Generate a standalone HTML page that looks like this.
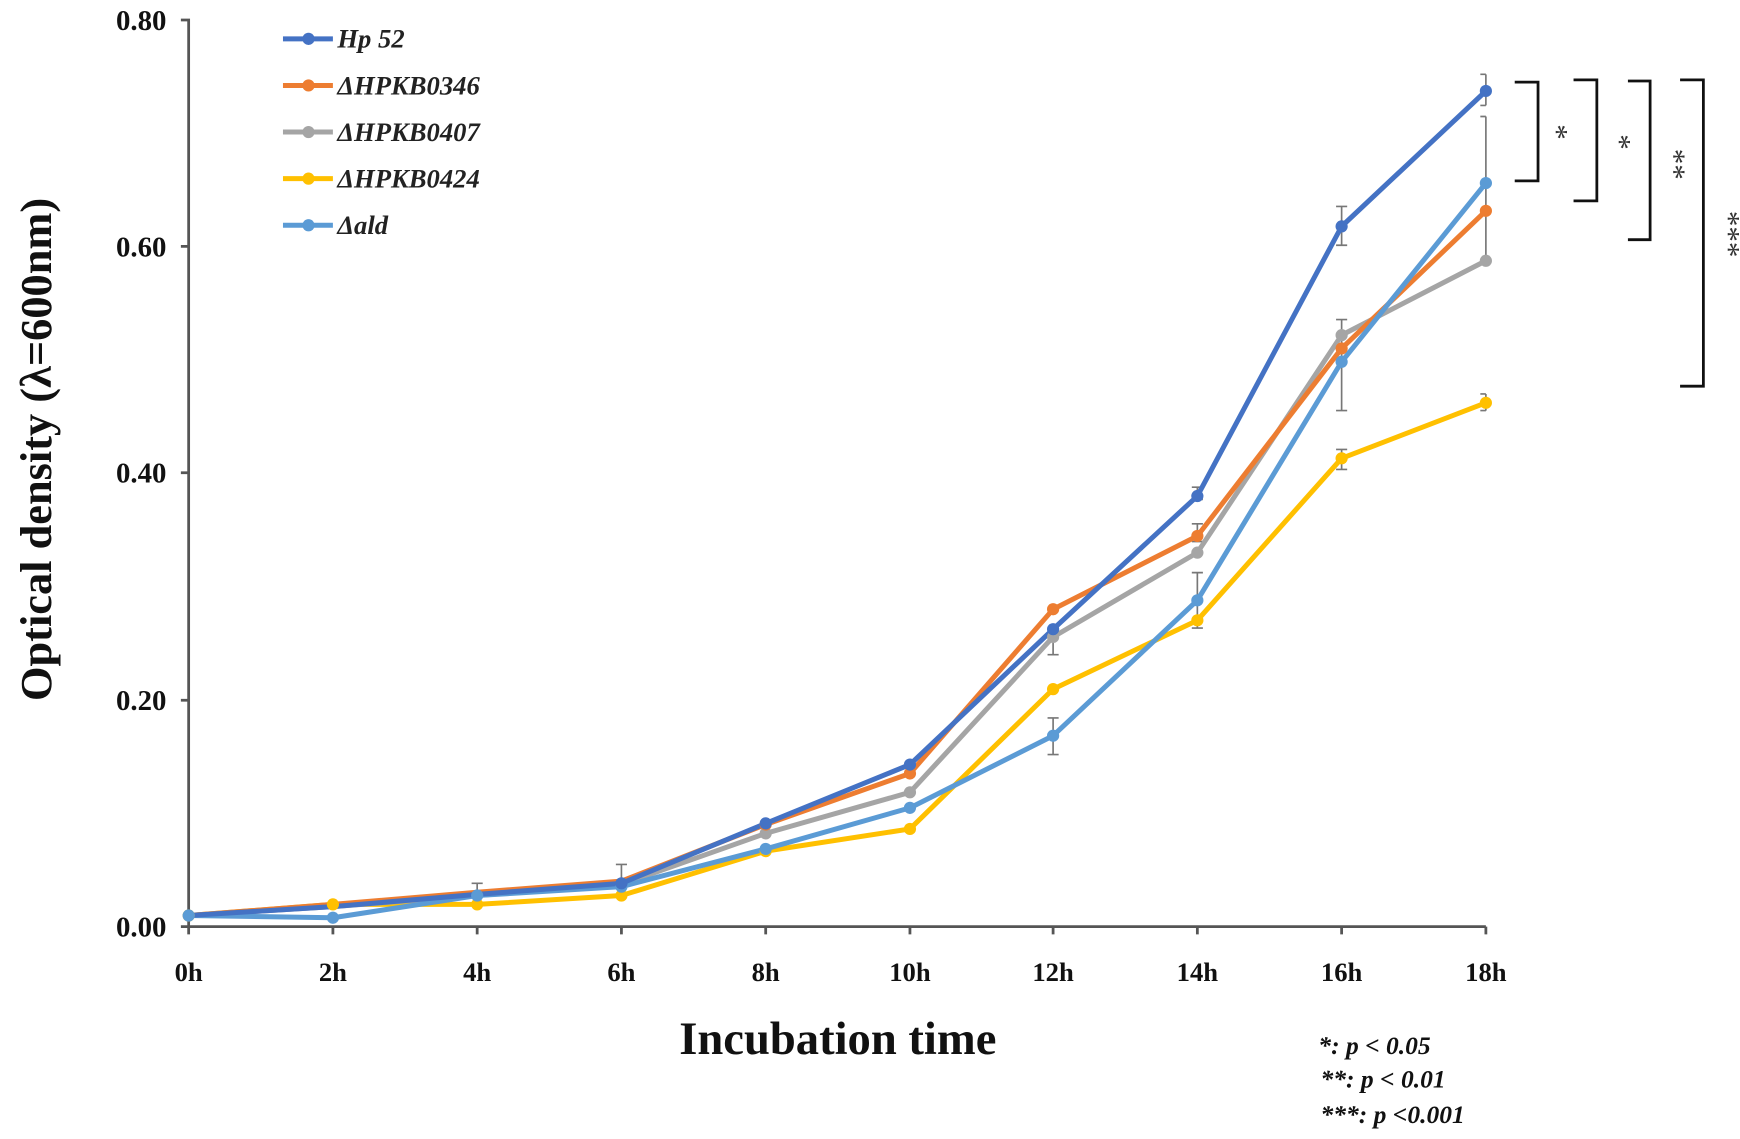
<!DOCTYPE html>
<html><head><meta charset="utf-8"><style>html,body{margin:0;padding:0;background:#fff}svg{display:block}text{font-family:"Liberation Serif",serif;font-weight:bold}</style></head>
<body>
<svg width="1740" height="1139" viewBox="0 0 1568 1026.4" preserveAspectRatio="none" xmlns="http://www.w3.org/2000/svg">
<g stroke="#555" stroke-width="2.5" fill="none">
<path d="M163 18H170V835H1339"/>
<path d="M163 222H170M163 426H170M163 631H170M163 835H170"/>
<path d="M170 835v7M300 835v7M430 835v7M560 835v7M690 835v7M820 835v7M949 835v7M1079 835v7M1209 835v7M1339 835v7"/>
</g>
<g font-size="26" text-anchor="end" fill="#111">
<text x="150" y="27">0.80</text><text x="150" y="231">0.60</text><text x="150" y="435">0.40</text><text x="150" y="640">0.20</text><text x="150" y="844">0.00</text>
</g>
<g font-size="24" text-anchor="middle" fill="#111">
<text x="170" y="884">0h</text><text x="300" y="884">2h</text><text x="430" y="884">4h</text><text x="560" y="884">6h</text><text x="690" y="884">8h</text><text x="820" y="884">10h</text><text x="949" y="884">12h</text><text x="1079" y="884">14h</text><text x="1209" y="884">16h</text><text x="1339" y="884">18h</text>
</g>
<text x="755" y="950" font-size="42" text-anchor="middle" fill="#111">Incubation time</text>
<text transform="translate(46 405) rotate(-90)" font-size="40" text-anchor="middle" fill="#111">Optical density (λ=600nm)</text>
<g font-size="23" font-style="italic" fill="#111">
<text x="1188" y="950">*: p &lt; 0.05</text><text x="1190" y="980">**: p &lt; 0.01</text><text x="1190" y="1012">***: p &lt;0.001</text>
</g>
<g stroke="#777" stroke-width="1.5" fill="none">
<path d="M1339 67V95M1334 67h5M1334 95h5"/>
<path d="M1339 105V235M1334 105h5M1334 235h5"/>
<path d="M1209 186V221M1204 186h10M1204 221h10"/>
<path d="M1209 288V370M1204 288h10M1204 370h10"/>
<path d="M1209 405V423M1204 405h10M1204 423h10"/>
<path d="M949 647V680M944 647h10M944 680h10"/>
<path d="M949 574V590M944 574h10M944 590h10"/>
<path d="M1079 516V566M1074 516h10M1074 566h10"/>
<path d="M1079 439V450M1074 439h10M1074 450h10"/>
<path d="M1079 472V488M1074 472h10M1074 488h10"/>
<path d="M1339 355V370M1334 355h5M1334 370h5"/>
<path d="M560 779V805M555 779h10"/>
<path d="M430 796V812M425 796h10"/>
</g>
<g fill="none" stroke-width="4.5" stroke-linejoin="round">
<polyline stroke="#FFC000" points="170,825 300,815 430,815 560,807 690,767 820,747 949,621 1079,559 1209,413 1339,363"/>
<polyline stroke="#A5A5A5" points="170,825 300,817 430,807 560,797 690,751 820,714 949,574 1079,498 1209,302 1339,235"/>
<polyline stroke="#ED7D31" points="170,825 300,815 430,804 560,794 690,743 820,697 949,549 1079,483 1209,314 1339,190"/>
<polyline stroke="#5B9BD5" points="170,825 300,827 430,807 560,799 690,765 820,728 949,663 1079,541 1209,326 1339,165"/>
<polyline stroke="#4472C4" points="170,825 300,817 430,806 560,796 690,742 820,689 949,567 1079,447 1209,204 1339,82"/>
</g>
<g fill="#FFC000"><circle cx="170" cy="825" r="5.5"/><circle cx="300" cy="815" r="5.5"/><circle cx="430" cy="815" r="5.5"/><circle cx="560" cy="807" r="5.5"/><circle cx="690" cy="767" r="5.5"/><circle cx="820" cy="747" r="5.5"/><circle cx="949" cy="621" r="5.5"/><circle cx="1079" cy="559" r="5.5"/><circle cx="1209" cy="413" r="5.5"/><circle cx="1339" cy="363" r="5.5"/></g>
<g fill="#A5A5A5"><circle cx="690" cy="751" r="5.5"/><circle cx="820" cy="714" r="5.5"/><circle cx="949" cy="574" r="5.5"/><circle cx="1079" cy="498" r="5.5"/><circle cx="1209" cy="302" r="5.5"/><circle cx="1339" cy="235" r="5.5"/></g>
<g fill="#ED7D31"><circle cx="690" cy="743" r="5.5"/><circle cx="820" cy="697" r="5.5"/><circle cx="949" cy="549" r="5.5"/><circle cx="1079" cy="483" r="5.5"/><circle cx="1209" cy="314" r="5.5"/><circle cx="1339" cy="190" r="5.5"/></g>
<g fill="#5B9BD5"><circle cx="170" cy="825" r="5.5"/><circle cx="300" cy="827" r="5.5"/><circle cx="430" cy="807" r="5.5"/><circle cx="560" cy="799" r="5.5"/><circle cx="690" cy="765" r="5.5"/><circle cx="820" cy="728" r="5.5"/><circle cx="949" cy="663" r="5.5"/><circle cx="1079" cy="541" r="5.5"/><circle cx="1209" cy="326" r="5.5"/><circle cx="1339" cy="165" r="5.5"/></g>
<g fill="#4472C4"><circle cx="560" cy="796" r="5.5"/><circle cx="690" cy="742" r="5.5"/><circle cx="820" cy="689" r="5.5"/><circle cx="949" cy="567" r="5.5"/><circle cx="1079" cy="447" r="5.5"/><circle cx="1209" cy="204" r="5.5"/><circle cx="1339" cy="82" r="5.5"/></g>
<g stroke-width="4.5">
<line x1="255" y1="35" x2="300" y2="35" stroke="#4472C4"/><circle cx="278" cy="35" r="5.5" fill="#4472C4"/>
<line x1="255" y1="77" x2="300" y2="77" stroke="#ED7D31"/><circle cx="278" cy="77" r="5.5" fill="#ED7D31"/>
<line x1="255" y1="119" x2="300" y2="119" stroke="#A5A5A5"/><circle cx="278" cy="119" r="5.5" fill="#A5A5A5"/>
<line x1="255" y1="161" x2="300" y2="161" stroke="#FFC000"/><circle cx="278" cy="161" r="5.5" fill="#FFC000"/>
<line x1="255" y1="203" x2="300" y2="203" stroke="#5B9BD5"/><circle cx="278" cy="203" r="5.5" fill="#5B9BD5"/>
</g>
<g font-size="24" font-style="italic" fill="#222">
<text x="304" y="43">Hp 52</text><text x="304" y="85">ΔHPKB0346</text><text x="304" y="127">ΔHPKB0407</text><text x="304" y="169">ΔHPKB0424</text><text x="304" y="211">Δald</text>
</g>
<g stroke="#111" stroke-width="2.5" fill="none">
<path d="M1365 74H1386V163H1365"/>
<path d="M1418 72H1439V181H1418"/>
<path d="M1467 73H1487V216H1467"/>
<path d="M1514 72H1535V348H1514"/>
</g>
<g font-size="28" fill="#333">
<text transform="translate(1394 112) rotate(90)" style="font-weight:normal">*</text>
<text transform="translate(1451 121) rotate(90)" style="font-weight:normal">*</text>
<text transform="translate(1500 134) rotate(90)" style="font-weight:normal">**</text>
<text transform="translate(1549 190) rotate(90)" style="font-weight:normal">***</text>
</g>
</svg>
</body></html>
